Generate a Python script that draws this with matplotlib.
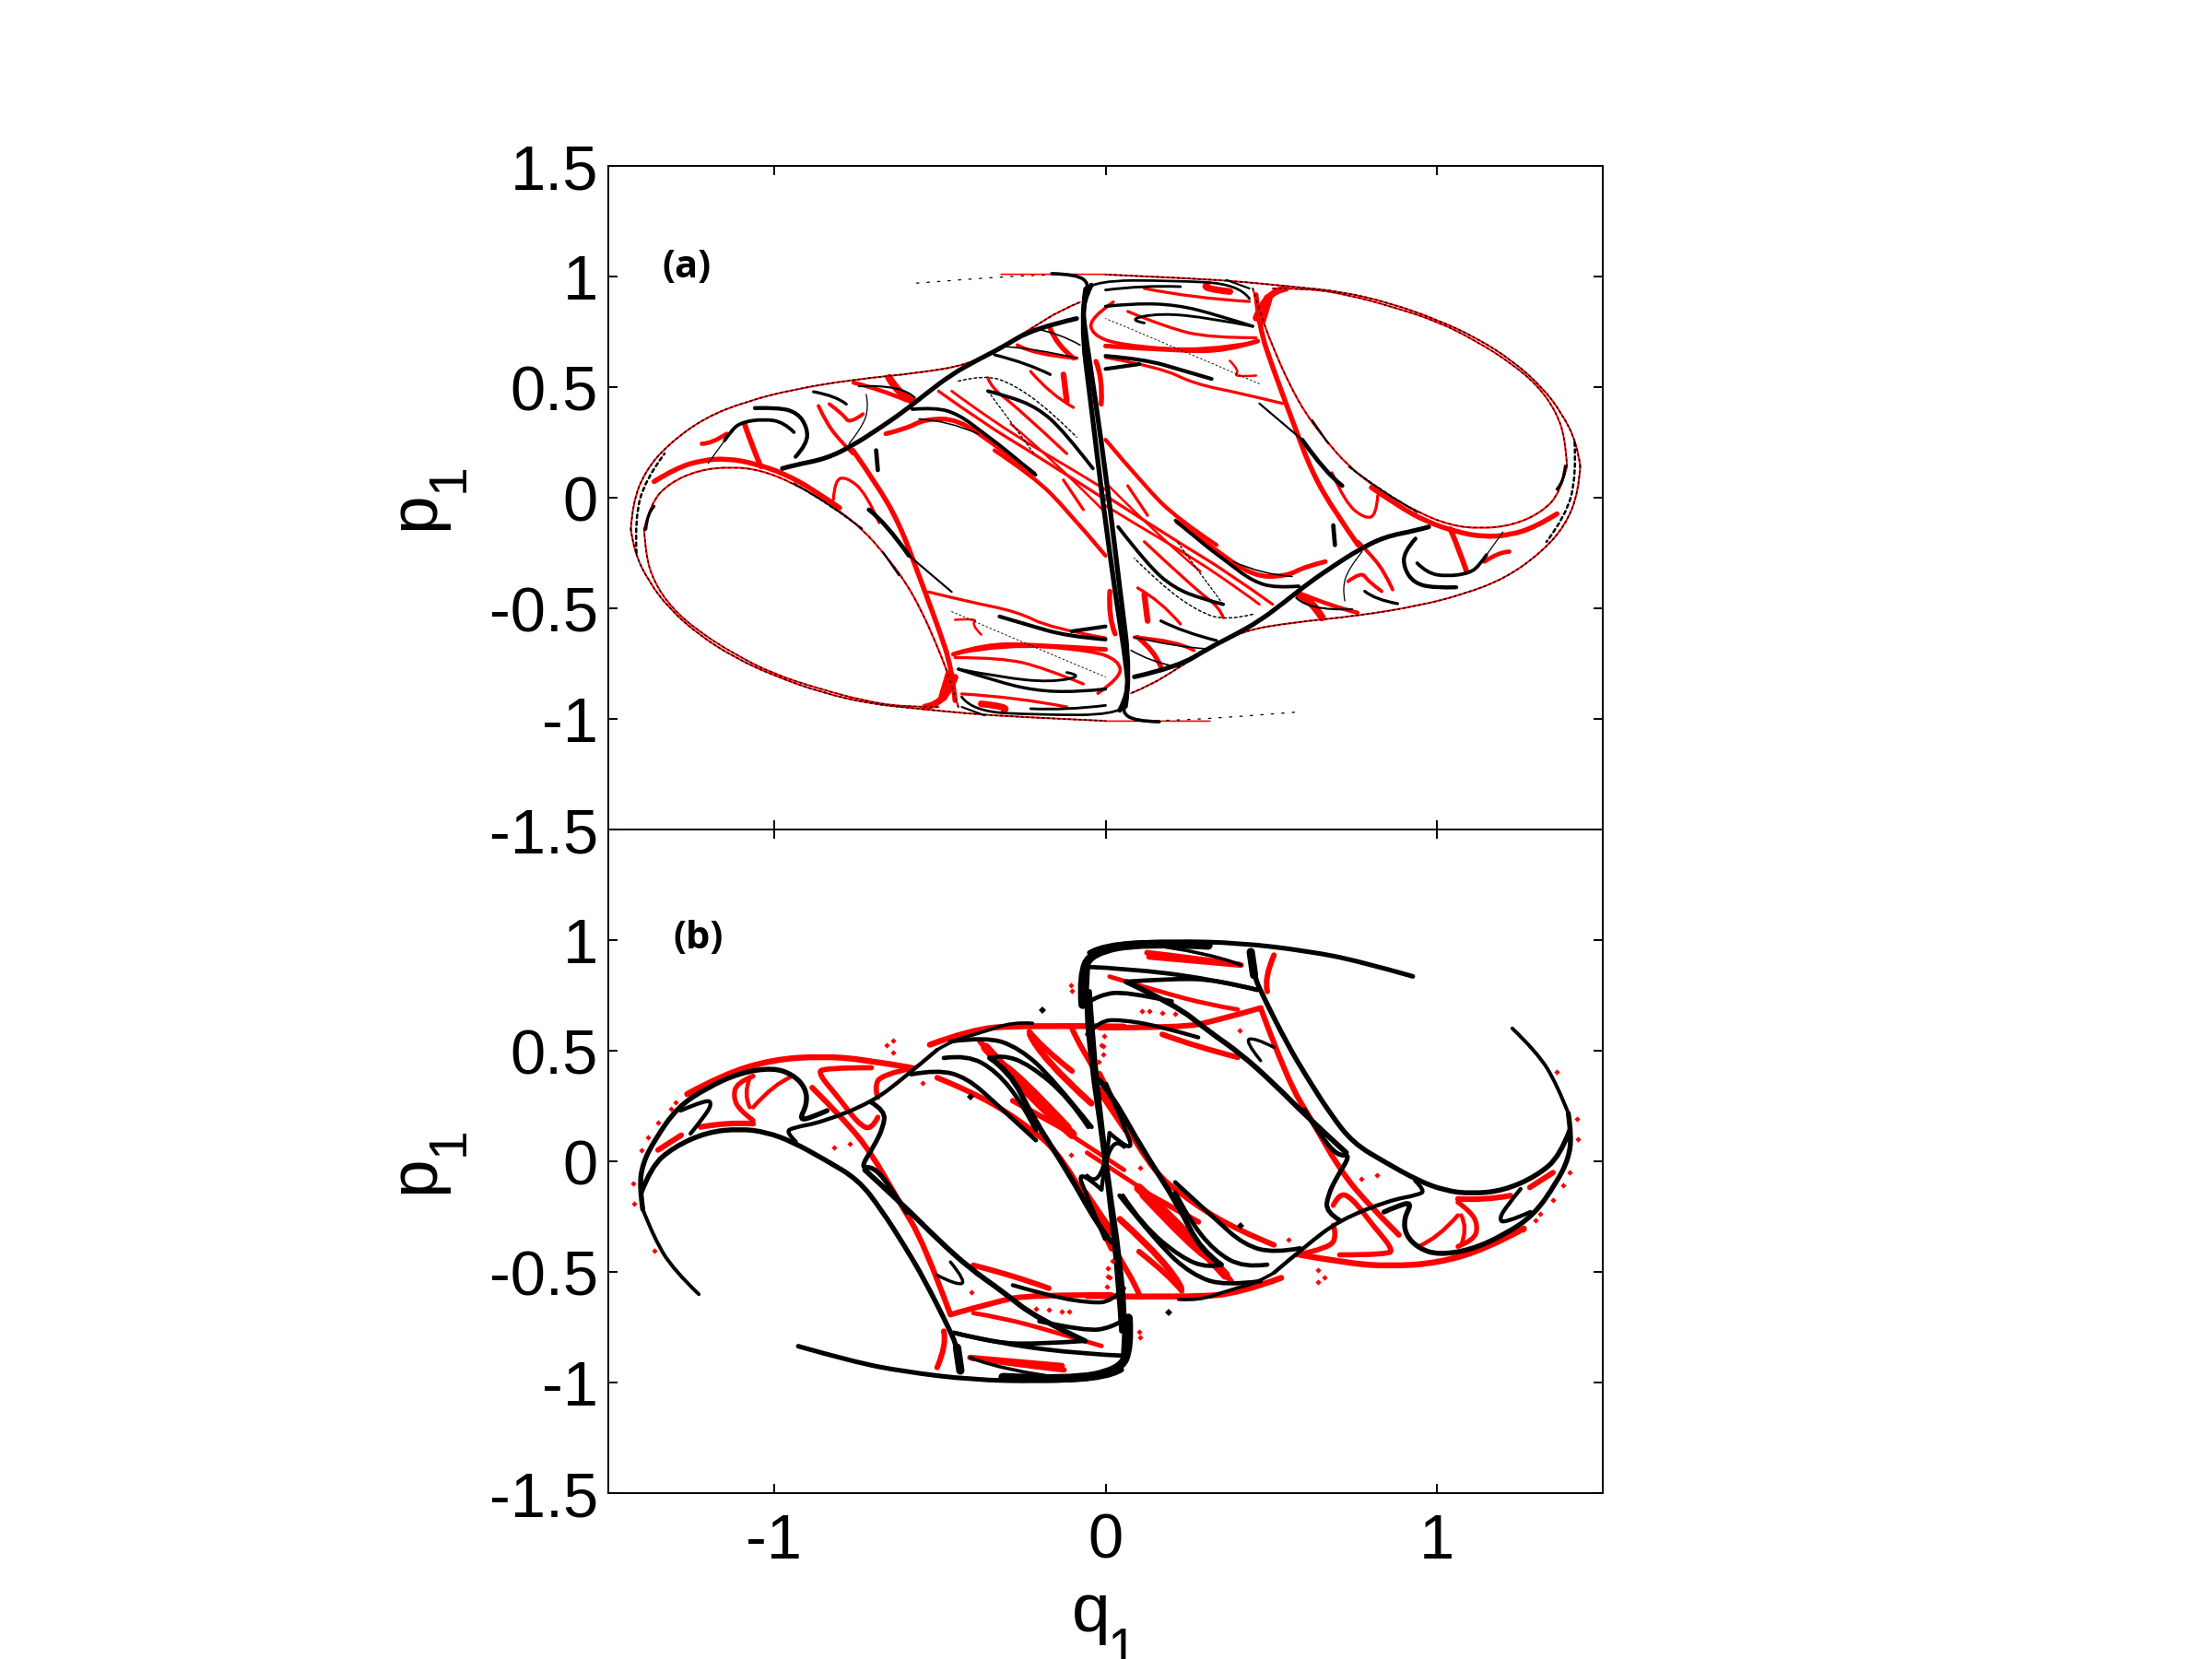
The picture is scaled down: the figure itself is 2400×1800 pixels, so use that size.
import numpy as np
import matplotlib
matplotlib.use("Agg")
import matplotlib.pyplot as plt
from matplotlib.path import Path
from matplotlib.patches import PathPatch

# ---------- tick data ----------
x_ticks = [-1, 0, 1]
x_tick_labels = ['-1', '0', '1']
y_ticks = [-1.5, -1, -0.5, 0, 0.5, 1, 1.5]
y_tick_labels = ['-1.5', '-1', '-0.5', '0', '0.5', '1', '1.5']
y_tick_labels_lower = ['-1.5', '-1', '-0.5', '0', '0.5', '1', '']

# ---------- panel (a): values read as (q1, p1); the section is point symmetric ----------
a_hole_lower = [(-1.392,-.143),(-1.387,-.262),(-1.362,-.381),(-1.308,-.5),(-1.228,-.604),(-1.119,-.708),(-1.0,-.798),(-.861,-.865),(-.732,-.917),(-.613,-.946),(-.504,-.946)]
a_hole_upper = [(-1.392,-.143),(-1.372,-.024),(-1.317,.065),(-1.228,.125),(-1.129,.14),(-1.04,.125),(-.94,.065),(-.821,-.039),(-.732,-.143),(-.663,-.262),(-.603,-.381),(-.554,-.515),(-.514,-.649),(-.474,-.798),(-.444,-.946)]
a_outer_top = [(-1.432,-.143),(-1.427,-.024),(-1.387,.125),(-1.317,.244),(-1.208,.363),(-1.079,.4375),(-.94,.49),(-.762,.534),(-.563,.564),(-.415,.601),(-.315,.683),(-.216,.772),(-.137,.847),(-.077,.884)]
a_outer_bottom = [(-1.432,-.143),(-1.422,-.247),(-1.377,-.381),(-1.317,-.5),(-1.228,-.619),(-1.119,-.723),(-1,-.805),(-.861,-.879),(-.712,-.932),(-.563,-.954),(-.415,-.976),(-.266,-.991),(0,-1.009)]
a_top_trace = [(-.57,.97),(-.4,.99),(-.2,1.008),(-.09,1.01)]
a_top_red = [(-.315,1.01),(-.15,1.01),(0,1.01)]
a_top_inner = [(-.06,.943),(-.029,.982),(.197,.982),(.403,.966),(.434,.9)]

a_red_arc = [(-1.362,.073),(-1.298,.132),(-1.218,.17),(-1.139,.177),(-1.06,.155),(-.97,.11),(-.881,.036),(-.802,-.046)]
a_red_wedge = [(-.762,.214),(-.692,.065),(-.623,-.113),(-.563,-.351),(-.504,-.589),(-.464,-.768),(-.454,-.917)]
a_red_foot = [(-.544,-.946),(-.484,-.932),(-.454,-.812)]
a_red_foot2 = [(-.49,-.9),(-.47,-.8)]
a_red_tri = [(-1.089,.333),(-1.069,.244),(-1.04,.141)]
a_red_small = [(-1.218,.244),(-1.188,.244),(-1.143,.289)]
a_red_swirl = [(-.866,.415),(-.841,.333),(-.792,.244),(-.762,.199)]
a_red_heart = [(-.833,.423),(-.792,.378),(-.772,.333),(-.732,.378)]
a_red_patch = [(-.653,.542),(-.623,.467),(-.583,.4375)]
a_red_patch2 = [(-.76,.52),(-.68,.49),(-.6,.44)]
a_red_hole2 = [(-.663,.289),(-.603,.311),(-.544,.356),(-.444,.356),(-.325,.229),(-.216,.11)]
a_red_band1 = [(-.504,.482),(-.365,.333),(-.216,.199),(0,-.009)]
a_red_band2 = [(-.335,.214),(-.216,.095),(-.117,-.054),(0,-.262)]
a_red_band3 = [(-.355,.542),(-.345,.497),(-.266,.408),(-.117,.199)]
a_red_band4 = [(-.226,.571),(-.167,.467),(-.097,.408)]
a_red_band5 = [(-.266,.69),(-.216,.646),(-.087,.631)]
a_red_band6 = [(-.167,.765),(-.147,.69),(-.097,.631)]
a_red_band7 = [(-.127,.557),(-.117,.4375)]
a_red_band8 = [(-.127,.08),(-.067,-.054)]
a_red_band9 = [(-.464,.482),(-.425,.4375),(-.266,.274),(-.097,.125),(0,.036)]
a_red_band10 = [(-.286,.333),(-.167,.185),(0,-.068)]
a_red_inner = [(.023,.884),(-.049,.81),(-.039,.735),(.043,.69),(.3,.66),(.456,.705)]
a_red_blob = [(-.029,.616),(-.008,.542),(-.013,.423)]
a_red_loop = [(-.821,-.009),(-.817,.08),(-.782,.095),(-.722,.021),(-.683,-.113)]
a_red_low1 = [(-.534,-.426),(-.415,-.47),(-.266,-.515),(-.167,-.589),(0,-.634)]
a_red_low2 = [(-.459,-.708),(-.365,-.664),(-.216,-.664),(0,-.686)]
a_red_low3 = [(-.454,-.723),(-.315,-.723),(-.187,-.768),(-.067,-.842)]
a_red_low4 = [(-.454,-.552),(-.385,-.545),(-.405,-.574),(-.375,-.619)]
a_red_low5 = [(-.434,-.887),(-.266,-.902),(-.117,-.946)]
a_red_low6 = [(-.375,-.932),(-.286,-.946),(-.306,-.961)]

a_spine = [(-.06,.943),(-.075,.795),(-.044,.423),(-.008,-.024),(.033,-.47),(.064,-.768),(.069,-.887),(.043,-.961)]
a_spine_hook = [(-.162,1.013),(-.087,1.01),(-.048,.966),(-.06,.943)]
a_blk_diag = [(-.975,.132),(-.94,.147),(-.841,.177),(-.762,.237),(-.692,.304),(-.613,.385),(-.544,.467),(-.465,.557),(-.385,.624),(-.315,.677),(-.216,.766),(-.087,.81)]
a_blk_hook1 = [(-.935,.185),(-.9,.244),(-.9,.318),(-.93,.385),(-.988,.408),(-1.058,.405)]
a_blk_hook2 = [(-.94,.296),(-.97,.341),(-1.03,.356),(-1.099,.341),(-1.129,.304),(-1.149,.259)]
a_blk_hook2b = [(-1.149,.259),(-1.199,.155)]
a_blk_short = [(-.782,.423),(-.812,.46),(-.881,.479)]
a_blk_thinloop = [(-.722,.467),(-.714,.408),(-.734,.318),(-.774,.244)]
a_blk_upper = [(-.744,.504),(-.615,.512),(-.575,.452)]
a_blk_b6 = [(-.583,.4),(-.514,.408),(-.444,.378),(-.365,.289),(-.286,.199),(-.211,.103)]
a_blk_b6b = [(-.563,.356),(-.474,.348),(-.385,.289)]
a_blk_b7 = [(-.355,.482),(-.296,.46),(-.206,.408),(-.127,.304),(-.038,.132)]
a_blk_b7b = [(-.444,.527),(-.365,.557),(-.276,.512),(-.167,.393),(-.087,.274)]
a_blk_b7c = [(-.355,.482),(-.266,.304),(-.216,.199)]
a_blk_b8 = [(-.335,.646),(-.236,.609),(-.167,.557)]
a_blk_b8b = [(-.306,.683),(-.216,.676),(-.087,.631)]
a_blk_b8c = [(-.216,.765),(-.137,.743),(-.077,.69)]
a_blk_b9 = [(-.714,-.054),(-.663,-.113),(-.593,-.262)]
a_blk_b9b = [(-.593,-.262),(-.464,-.426)]
a_blk_stub = [(-.692,.214),(-.687,.125)]
a_blk_b9c = [(-.671,-.247),(-.623,-.351)]
a_blk_edge = [(-1.387,-.143),(-1.382,-.068),(-1.362,-.039)]
a_blk_b10 = [(-.444,-.775),(-.335,-.827),(-.216,-.872),(-.087,-.879),(0,-.865)]
a_blk_b10b = [(-.444,-.775),(-.315,-.812),(-.167,-.835),(-.063,-.805),(-.117,-.79)]
a_blk_b11 = [(-.32,-.537),(-.236,-.574),(-.117,-.626),(0,-.641)]
a_blk_b11b = [(-.102,-.604),(0,-.582)]
a_blk_b12 = [(-.226,-.954),(-.117,-.961),(0,-.939)]
a_blk_b12b = [(-.434,-.946),(-.365,-.984)]
a_blk_thin = [(-.464,-.515),(-.167,-.708),(0,-.81)]
a_blk_rim = [(-.94,.065),(-.821,-.039),(-.732,-.143)]
a_blk_lobe = [(-1.415,-.25),(-1.42,-.1),(-1.39,.08),(-1.33,.2)]

# ---------- panel (b) ----------
b_blk_tail = [(-1.227,-.601),(-1.302,-.493),(-1.361,-.351),(-1.396,-.217)]
b_blk_outer = [(-1.396,-.217),(-1.406,-.113),(-1.396,-.009),(-1.361,.095),(-1.292,.244),(-1.202,.333),(-1.103,.4),(-1.004,.423),(-.944,.393),(-.905,.333),(-.9,.259),(-.925,.185),(-.885,.199),(-.84,.229)]
b_blk_inner = [(-1.401,-.143),(-1.371,-.024),(-1.302,.065),(-1.202,.132),(-1.103,.147),(-1.023,.132),(-.944,.088),(-.845,.006),(-.746,-.083),(-.677,-.217),(-.607,-.381),(-.548,-.53),(-.468,-.768),(-.448,-.842),(-.438,-.946)]
b_blk_loop = [(-1.282,.229),(-1.202,.281),(-1.187,.259),(-1.212,.199),(-1.252,.125)]
b_blk_diag = [(-.934,.088),(-.964,.132),(-.944,.152),(-.855,.177),(-.706,.266),(-.607,.378),(-.508,.504)]
b_blk_diag2 = [(-.508,.504),(-.458,.549),(-.379,.579),(-.28,.631),(-.22,.624)]
b_blk_fold = [(-.706,.266),(-.665,.229),(-.67,.155),(-.7,.065),(-.74,-.031),(-.7,-.024),(-.65,-.113),(-.6,-.232)]
b_blk_long = [(-.726,-.039),(-.607,-.202),(-.508,-.351),(-.409,-.485),(-.31,-.589),(-.21,-.708),(-.062,-.812)]
b_blk_long2 = [(-.062,-.812),(-.21,-.827),(-.339,-.82),(-.458,-.775)]
b_blk_c1 = [(-.587,.393),(-.508,.415),(-.418,.378),(-.329,.259),(-.21,.095)]
b_blk_c2 = [(-.488,.467),(-.418,.482),(-.329,.408),(-.25,.259),(-.21,.14)]
b_blk_c3 = [(-.468,.542),(-.359,.564),(-.26,.512),(-.161,.378),(-.042,.155)]
b_blk_d1 = [(-.349,.467),(-.289,.408),(-.22,.199),(-.111,-.054),(-.022,-.292),(.018,-.366)]
b_blk_d2 = [(-.349,.467),(-.31,.482),(-.23,.4375),(-.111,.289),(-.052,.155)]
b_blk_spine = [(-.052,.896),(-.062,.75),(-.042,.423),(-.012,.125),(.018,-.247),(.038,-.545),(.048,-.768)]
b_blk_band = [(-.049,.943),(-.008,.981),(.197,.995),(.403,.988),(.608,.951),(.763,.906),(.927,.836)]
b_blk_corner = [(.069,-.708),(.074,-.842),(.043,-.946),(-.111,-.991),(-.31,-.976)]
b_blk_h1 = [(-.458,-.775),(-.31,-.827),(-.062,-.872),(.056,-.879)]
b_blk_h2 = [(-.409,-.887),(-.31,-.946),(-.111,-.984)]
b_blk_h3 = [(-.28,-.56),(-.161,-.612),(-.042,-.641),(.018,-.634),(.056,-.574)]
b_blk_h4 = [(-.2,-.723),(-.062,-.768),(.018,-.753),(.056,-.716)]
b_blk_z1 = [(-.012,-.128),(-.091,-.024),(-.052,-.173),(-.002,-.351)]
b_blk_z2 = [(-.012,-.128),(.008,.14),(.056,.065)]
b_blk_l2 = [(-.508,-.515),(-.449,-.56),(-.419,-.545),(-.468,-.455)]
b_blk_foot = [(-.448,-.842),(-.438,-.946)]

b_red_arc = [(-1.262,.304),(-1.153,.393),(-1.004,.46),(-.855,.475),(-.726,.46),(-.587,.423)]
b_red_r2 = [(-.706,.423),(-.855,.423),(-.865,.393),(-.806,.289),(-.746,.17),(-.706,.14),(-.687,.199)]
b_red_r3 = [(-.577,.423),(-.677,.393),(-.697,.333),(-.687,.289)]
b_red_l1 = [(-1.063,.385),(-1.113,.356),(-1.123,.289),(-1.103,.229),(-1.063,.185)]
b_red_l2 = [(-1.073,.378),(-1.093,.304),(-1.073,.244)]
b_red_l3 = [(-1.063,.244),(-1.003,.348),(-.944,.385)]
b_red_r5 = [(-1.35,.051),(-1.28,.118)]
b_red_r5b = [(-1.222,.155),(-1.143,.177),(-1.063,.17)]
b_red_r6 = [(-.885,.333),(-.786,.185),(-.706,.036),(-.627,-.173),(-.548,-.366),(-.468,-.693)]
b_red_r7 = [(-.53,.527),(-.409,.594),(-.26,.616),(.056,.609)]
b_red_r8 = [(-.508,.378),(-.409,.318),(-.27,.199),(-.111,.006),(.018,-.396)]
b_red_r9 = [(-.379,.542),(-.339,.467),(-.26,.393),(-.111,.155)]
b_red_r9b = [(-.362,.515),(-.218,.277),(-.1,.121)]
b_red_r9c = [(-.23,.586),(-.19,.512),(-.101,.408)]
b_red_r9d = [(-.111,.125),(.056,-.039)]
b_red_r9e = [(-.101,.601),(-.081,.527),(-.012,.363)]
b_red_r9f = [(-.28,.274),(-.101,.125)]
b_red_r9g = [(-.062,-.143),(.018,-.321)]
b_red_r9h = [(-.043,.262),(-.197,.47),(-.228,.574)]
b_red_top1 = [(.125,.943),(.26,.92),(.403,.89)]
b_red_low1 = [(-.468,-.693),(-.329,-.634),(-.23,-.604),(.018,-.604)]
b_red_low2 = [(-.399,-.47),(-.28,-.515),(-.171,-.574)]
b_red_low3 = [(-.399,-.686),(-.31,-.708),(-.161,-.768),(-.012,-.835)]
b_red_low4 = [(-.409,-.887),(-.131,-.924)]
b_red_low5 = [(-.508,-.932),(-.478,-.827),(-.488,-.768)]
b_red_dots_q = [-1.426,-1.421,-.66,-.642,-.642,-.553,-.82,-.771,-.404,-1.361,-1.4,-1.381,-1.351,-1.312,-1.296,-1.262,-.104,-.101,-.012,-.022,-.104,.008,.008,.003,-.131,-.111,-.21,-.171]
b_red_dots_p = [-.101,-.193,.527,.545,.49,.356,.063,.08,-.592,-.403,.05,.107,.177,.237,.266,.307,.795,.772,.527,.452,.028,-.485,-.522,-.567,-.679,-.679,-.667,-.671]
b_blk_dots_q = [-.19,-.406]
b_blk_dots_p = [.683,.293]

RED = '#fe0000'
BLK = '#000000'
GAIN_A = 1.3
GAIN_B_RED = 1.45
GAIN_B_BLK = 1.3


def stroke(ax, pts, color, lw, ls='-', mirror=True):
    """Smooth quadratic path with the read values as control points."""
    for sign in ((1, -1) if mirror else (1,)):
        p = sign * np.asarray(pts, dtype=float)
        if len(p) < 3:
            verts, codes = list(p), [Path.MOVETO, Path.LINETO]
        else:
            verts, codes = [p[0]], [Path.MOVETO]
            for i in range(1, len(p) - 1):
                end = p[i + 1] if i == len(p) - 2 else (p[i] + p[i + 1]) / 2
                verts += [p[i], end]
                codes += [Path.CURVE3, Path.CURVE3]
        ax.add_patch(PathPatch(Path(verts, codes), fill=False, edgecolor=color,
                               lw=lw, ls=ls, capstyle='round', joinstyle='round'))


plt.rcParams['font.family'] = ['Liberation Sans', 'DejaVu Sans']

fig = plt.figure(figsize=(24, 18), dpi=100, facecolor='white')
ax_a = fig.add_axes([660/2400, 1-900/1800, 1079/2400, 720/1800])
ax_b = fig.add_axes([660/2400, 1-1620/1800, 1079/2400, 720/1800])

# --- panel a ---
for pts, lw in [(a_hole_lower,1.1),(a_hole_upper,1.2),(a_outer_top,1.1),(a_outer_bottom,1.1),(a_top_red,.9),
                (a_red_arc,3.0),(a_red_wedge,3.0),(a_red_foot,4.0),(a_red_foot2,5.5),(a_red_tri,3.2),(a_red_small,2.6),
                (a_red_swirl,2.2),(a_red_heart,2.2),(a_red_patch,4.5),(a_red_patch2,2.5),(a_red_hole2,2.8),
                (a_red_band1,1.8),(a_red_band2,2.4),(a_red_band3,1.8),(a_red_band4,1.8),(a_red_band5,2.2),
                (a_red_band6,3),(a_red_band7,3.5),(a_red_band8,1.8),(a_red_band9,1.6),(a_red_band10,1.4),
                (a_red_inner,2.0),(a_red_blob,3.0),(a_red_loop,1.8),(a_red_low1,1.8),
                (a_red_low2,2.8),(a_red_low3,1.8),(a_red_low4,1.4),(a_red_low5,1.8),(a_red_low6,4)]:
    stroke(ax_a, pts, RED, lw*GAIN_A)
for pts, lw, ls in [(a_outer_top,.9,(0,(1,2.5))),(a_outer_bottom,.9,(0,(1,2.5))),(a_hole_lower,.8,(0,(1,3))),
                    (a_blk_lobe,1.4,(0,(1.5,1.5))),(a_hole_upper,.7,(0,(1.5,4))),
                    (a_top_trace,.7,(0,(2,7))),(a_blk_rim,1.2,(0,(2,1))),(a_top_inner,1.5,'-'),
                    (a_spine_hook,2.0,'-'),(a_blk_diag,2.8,'-'),(a_blk_hook1,2.4,'-'),(a_blk_hook2,2.1,'-'),
                    (a_blk_hook2b,.7,'-'),(a_blk_short,1.8,'-'),(a_blk_thinloop,.7,'-'),(a_blk_upper,1.2,'-'),
                    (a_blk_b6,2.1,'-'),(a_blk_b6b,.9,'-'),(a_blk_b7,2.1,'-'),(a_blk_b7b,.8,(0,(2,2))),
                    (a_blk_b7c,.7,(0,(2,2))),(a_blk_b8,1.8,'-'),
                    (a_blk_b8b,.9,'-'),(a_blk_b8c,.9,'-'),(a_blk_b9,2.6,'-'),(a_blk_b9b,1.2,'-'),
                    (a_blk_stub,2.6,'-'),(a_blk_b9c,1.2,'-'),(a_blk_edge,1.8,'-'),(a_blk_b10,1.9,'-'),
                    (a_blk_b10b,1.6,'-'),(a_blk_b11,2.3,'-'),(a_blk_b11b,2.3,'-'),(a_blk_b12,1.6,'-'),
                    (a_blk_b12b,1.2,'-'),(a_blk_thin,.5,(0,(2,3)))]:
    stroke(ax_a, pts, BLK, lw*GAIN_A, ls)
stroke(ax_a, a_spine, BLK, 3.8)

# --- panel b ---
for pts, lw in [(b_red_arc,3.2),(b_red_r2,2.8),(b_red_r3,2.8),(b_red_l1,2.6),(b_red_l2,2.2),(b_red_l3,2.2),
                (b_red_r5,3),(b_red_r5b,3),(b_red_r6,3),(b_red_r7,3.2),(b_red_r8,3),(b_red_r9,3),(b_red_r9b,5),
                (b_red_r9c,3),(b_red_r9d,2.4),(b_red_r9e,3),(b_red_r9f,3),(b_red_r9g,4),(b_red_r9h,3.5),(b_red_top1,3),
                (b_red_low1,3),(b_red_low2,3),(b_red_low3,2.4),(b_red_low4,3),(b_red_low5,3)]:
    stroke(ax_b, pts, RED, lw*GAIN_B_RED)
for sign in (1, -1):
    ax_b.plot(sign*np.array(b_red_dots_q), sign*np.array(b_red_dots_p), ls='none', marker='D',
              ms=3.2, color=RED, mew=0)
    ax_b.plot(sign*np.array(b_blk_dots_q), sign*np.array(b_blk_dots_p), ls='none', marker='D',
              ms=3.6, color=BLK, mew=0)
for pts, lw in [(b_blk_tail,2.2),(b_blk_outer,3.0),(b_blk_inner,3.0),(b_blk_loop,2.4),(b_blk_diag,2.4),
                (b_blk_diag2,2.0),(b_blk_fold,2.8),(b_blk_long,3.2),(b_blk_long2,2.6),(b_blk_c1,2.6),(b_blk_c2,2.6),
                (b_blk_c3,2.6),(b_blk_d1,3.2),(b_blk_d2,2.6),(b_blk_spine,2.8),(b_blk_band,2.8),(b_blk_corner,5.2),
                (b_blk_h1,2.6),(b_blk_h2,2.0),(b_blk_h3,2.4),(b_blk_h4,2.6),(b_blk_z1,2.4),(b_blk_z2,2.4),
                (b_blk_l2,1.9),(b_blk_foot,5)]:
    stroke(ax_b, pts, BLK, lw*GAIN_B_BLK)

for ax, labels in ((ax_a, y_tick_labels), (ax_b, y_tick_labels_lower)):
    ax.set_xlim(-1.5, 1.5)
    ax.set_ylim(-1.5, 1.5)
    ax.set_xticks(x_ticks)
    ax.set_yticks(y_ticks)
    ax.set_yticklabels(labels, fontsize=49.5)
    ax.tick_params(direction='in', top=True, right=True, length=7, width=1.4)
    ax.tick_params(axis='y', pad=8)
    for s in ax.spines.values():
        s.set_linewidth(1.4)
ax_a.set_xticklabels([])
ax_b.set_xticklabels(x_tick_labels, fontsize=49.5)
ax_b.tick_params(axis='x', pad=15)


def fig_xy(px, py):
    return px/2400, 1-py/1800


# axis labels: a full-size letter and a large subscript, as in the reference
for dy in (0, 720):
    fig.text(*fig_xy(470, 575+dy), 'p', fontsize=54, rotation=90, ha='left', va='baseline',
             rotation_mode='anchor')
    fig.text(*fig_xy(503, 534+dy), '1', fontsize=41, rotation=90, ha='left', va='baseline',
             rotation_mode='anchor')
fig.text(*fig_xy(1163, 1770), 'q', fontsize=54, ha='left', va='baseline')
fig.text(*fig_xy(1202, 1807), '1', fontsize=41, ha='left', va='baseline')

ax_a.text(-1.264, 1.04, '(a)', fontsize=30, fontweight='bold', family='Open Sans', ha='center', va='center')
ax_b.text(-1.228, 1.008, '(b)', fontsize=30, fontweight='bold', family='Open Sans', ha='center', va='center')

fig.savefig('out.png', dpi=100, facecolor='white')
